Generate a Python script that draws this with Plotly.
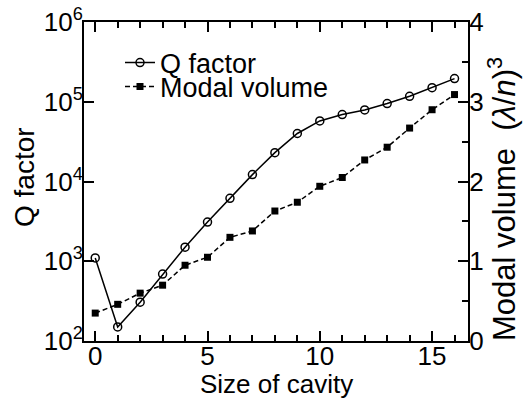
import plotly.graph_objects as go

cavity_size = list(range(17))
q_factor = [1100, 150, 307, 690, 1500, 3100, 6150, 12200, 23000, 40000,
            57500, 69000, 79000, 95000, 117000, 150000, 195000]
modal_volume = [0.35, 0.46, 0.60, 0.70, 0.95, 1.05, 1.30, 1.38, 1.63, 1.74,
                1.94, 2.05, 2.27, 2.43, 2.67, 2.90, 3.09]
q_tickvals = [1e2, 1e3, 1e4, 1e5, 1e6]
q_ticktext = ["10<sup>2</sup>", "10<sup>3</sup>", "10<sup>4</sup>", "10<sup>5</sup>", "10<sup>6</sup>"]
mv_tickvals = [0, 1, 2, 3, 4]
x_tickvals = [0, 5, 10, 15]

FONT = "Arial, Liberation Sans, sans-serif"
FS = 26
W, H = 532, 399
# plot area in page pixels: x 84..468, y 22..341
PX0, PX1, PY0, PY1 = 84, 468, 22, 341
L, T, R, B = PX0, PY0, W - PX1, H - PY1
PW, PH = PX1 - PX0, PY1 - PY0


def paper_x(px):
    return (px - PX0) / PW


def paper_y(py):
    return (PY1 - py) / PH


fig = go.Figure()
fig.add_trace(go.Scatter(
    x=cavity_size, y=q_factor, name="Q factor", mode="lines+markers",
    line=dict(color="black", width=1.5),
    marker=dict(symbol="circle-open", size=8, color="black", line=dict(width=1.5)),
    yaxis="y", legend="legend"))
fig.add_trace(go.Scatter(
    x=cavity_size, y=modal_volume, name="Modal volume", mode="lines+markers",
    line=dict(color="black", width=1.5, dash="5px,3px"),
    marker=dict(symbol="square", size=7, color="black"),
    yaxis="y2", legend="legend2"))

leg_common = dict(xref="container", yref="container", xanchor="left", yanchor="middle",
                  bgcolor="rgba(0,0,0,0)", font=dict(size=27), borderwidth=0)

fig.update_layout(
    width=W, height=H,
    margin=dict(l=L, r=R, t=T, b=B, autoexpand=False),
    paper_bgcolor="white", plot_bgcolor="white",
    font=dict(family=FONT, size=FS, color="black"),
    showlegend=True,
    legend=dict(x=120 / W, y=1 - 63 / H, **leg_common),
    legend2=dict(x=120 / W, y=1 - 87 / H, **leg_common),
    xaxis=dict(range=[-0.5, 16.6], showgrid=False, zeroline=False, automargin=False,
               showline=True, linewidth=2, linecolor="black", mirror="ticks",
               ticks="inside", ticklen=10, tickwidth=1.5, tickcolor="black",
               tickvals=x_tickvals, ticklabelstandoff=-9, ticklabeloverflow="allow",
               minor=dict(ticks="inside", ticklen=6, tickwidth=1.5, dtick=1, tickcolor="black", showgrid=False),
               tickfont=dict(size=FS)),
    yaxis=dict(type="log", range=[2, 6], showgrid=False, zeroline=False, automargin=False,
               showline=True, linewidth=2, linecolor="black",
               ticks="inside", ticklen=10, tickwidth=1.5, tickcolor="black",
               tickvals=q_tickvals, ticktext=q_ticktext, ticklabelstandoff=-6,
               ticklabeloverflow="allow",
               tickfont=dict(size=FS)),
    yaxis2=dict(range=[0, 4], overlaying="y", side="right", showgrid=False, zeroline=False,
                automargin=False,
                showline=True, linewidth=2, linecolor="black",
                ticks="inside", ticklen=10, tickwidth=1.5, tickcolor="black",
                tickvals=mv_tickvals, ticklabelstandoff=-6, ticklabeloverflow="allow",
                minor=dict(ticks="inside", ticklen=6, tickwidth=1.5, dtick=0.5, tickcolor="black", showgrid=False),
                tickfont=dict(size=FS)),
    annotations=[
        dict(text="Size of cavity", xref="paper", yref="paper",
             x=paper_x(276), y=paper_y(384), xanchor="center", yanchor="middle",
             showarrow=False, font=dict(size=FS)),
        dict(text="Q factor", textangle=-90, xref="paper", yref="paper",
             x=paper_x(24), y=paper_y(177), xanchor="center", yanchor="middle",
             showarrow=False, font=dict(size=28)),
        dict(text="Modal volume  (<i>λ</i>/<i>n</i>)<sup>3</sup>", textangle=-90,
             xref="paper", yref="paper", x=paper_x(502), y=paper_y(199),
             xanchor="center", yanchor="middle", showarrow=False,
             font=dict(size=31)),
    ],
)

fig.write_html("out.html", config={"displayModeBar": False},
               post_script="document.body.style.margin='0px';")
